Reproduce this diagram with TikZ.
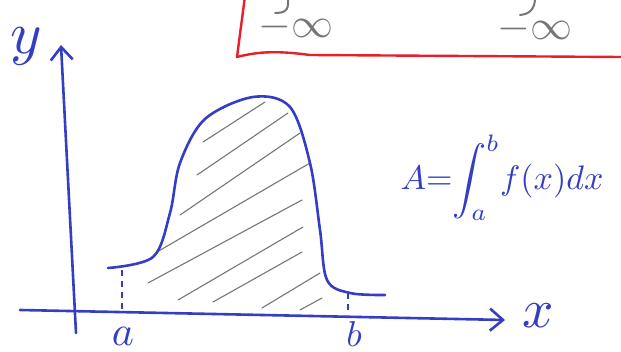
\documentclass[tikz,border=0pt]{standalone}
\usetikzlibrary{arrows.meta}
\definecolor{penblue}{RGB}{52,62,196}
\definecolor{penred}{RGB}{232,30,42}
\definecolor{pencil}{RGB}{118,118,118}
\begin{document}
\begin{tikzpicture}[x=1pt,y=1pt,
  pen/.style={penblue,line width=2.6pt,line cap=round,line join=round},
  axis/.style={pen,-{Straight Barb[length=13pt,width=22pt,line width=2.6pt]}},
  hatch/.style={pencil,line width=1.1pt,line cap=round},
  guide/.style={penblue,line width=1.6pt,dash pattern=on 6pt off 5pt},
  lbl/.style={text=penblue,inner sep=0pt},
  faint/.style={text=pencil,inner sep=0pt,scale=4.2}]
\useasboundingbox (0,0) rectangle (621,351);
% red box, cut by the page edge
\draw[penred,line width=2.4pt,line cap=round,line join=round]
  (245,355) -- (237,294) .. controls (260,300) and (280,300) .. (310,296) -- (621,294);
\draw[pencil,line width=2pt,line cap=round] (288,351) .. controls (289,340) and (284,338) .. (275,338);
\draw[pencil,line width=2pt,line cap=round] (535,351) .. controls (534,341) and (529,337) .. (520,336);
\node[faint] (lowA) at (296,324) {$-\infty$};
\node[faint] (lowB) at (535,322) {$-\infty$};
% axes
\coordinate (yfoot) at (76,18);
\coordinate (ytip) at (61,306);
\coordinate (xfoot) at (20,41);
\coordinate (xtip) at (505,31);
\draw[axis] (yfoot) -- (ytip);
\draw[axis] (xfoot) -- (xtip);
\node[lbl,scale=6] (ylabel) at (26,305) {$y$};
\node[lbl,scale=5.5] (xlabel) at (538,35) {$x$};
% limits
\coordinate (atop) at (122,81);
\coordinate (afoot) at (122,40);
\coordinate (btop) at (348,58);
\coordinate (bfoot) at (348,38);
\draw[guide] (atop) -- (afoot);
\draw[guide] (btop) -- (bfoot);
\node[lbl,scale=4.2] (alabel) at (123,15) {$a$};
\node[lbl,scale=3.6] (blabel) at (354,17) {$b$};
% hatching
\foreach \xa/\ya/\xb/\yb in {203/209/265/249, 197/176/288/238, 180/136/300/218,
    157/99/310/188, 148/68/302/151, 178/51/303/124, 213/49/302/99,
    262/43/320/78, 300/41/322/53}
  \draw[hatch] (\xa,\ya) -- (\xb,\yb);
% curve f(x)
\draw[pen] plot[smooth,tension=0.55] coordinates {(108,83) (153,94) (170,138)
  (180,188) (205,232) (253,254) (290,244) (310,188) (320,121) (327,71)
  (350,58) (385,56)};
% formula
\node[lbl,scale=3.4] (area) at (502,173)
  {$\displaystyle A{=}\!\int_a^b\! f(x)dx$};
\end{tikzpicture}
\end{document}
